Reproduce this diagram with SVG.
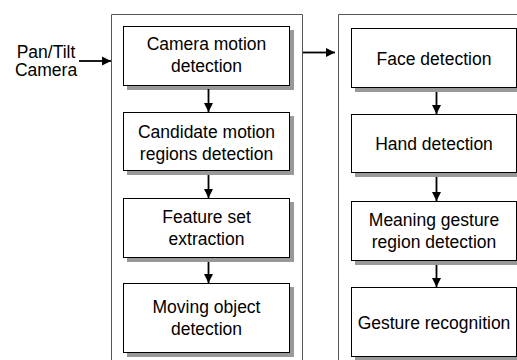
<svg xmlns="http://www.w3.org/2000/svg" width="517" height="360" viewBox="0 0 517 360">
<style>
.frame{fill:none;stroke:#555;stroke-width:1}
.box{fill:#fff;stroke:#000;stroke-width:1}
.shadow{fill:#999}
.t{font-family:"Liberation Sans",Arial,Helvetica,sans-serif;font-size:17.5px;fill:#000;text-anchor:middle}
.edge{stroke:#000;stroke-width:1.8;fill:none;marker-end:url(#ah)}
</style>
<defs>
<marker id="ah" markerUnits="userSpaceOnUse" markerWidth="12" markerHeight="12" refX="9" refY="6" orient="auto">
<path d="M0,1.5 L9,6 L0,10.5 Z" fill="#000"/>
</marker>
</defs>
<rect width="517" height="360" fill="#fff"/>
<g id="frames">
<path class="frame" d="M111.5,362 V14.5 H302.5 V362"/>
<path class="frame" d="M338.5,362 V14.5 H520"/>
</g>
<g id="pan-tilt-camera">
<text class="t" x="46" y="58">Pan/Tilt</text>
<text class="t" x="46" y="76">Camera</text>
</g>
<g id="camera-motion-detection">
<rect class="shadow" x="127" y="30" width="167" height="60"/>
<rect class="box" x="123.5" y="26.5" width="166" height="59"/>
<text class="t" x="206.5" y="50">Camera motion</text>
<text class="t" x="206.5" y="72">detection</text>
</g>
<g id="candidate-motion-regions-detection">
<rect class="shadow" x="127" y="116" width="167" height="59"/>
<rect class="box" x="123.5" y="112.5" width="166" height="58"/>
<text class="t" x="206.5" y="138">Candidate motion</text>
<text class="t" x="206.5" y="160">regions detection</text>
</g>
<g id="feature-set-extraction">
<rect class="shadow" x="127" y="202" width="167" height="60"/>
<rect class="box" x="123.5" y="198.5" width="166" height="59"/>
<text class="t" x="206.5" y="223">Feature set</text>
<text class="t" x="206.5" y="245">extraction</text>
</g>
<g id="moving-object-detection">
<rect class="shadow" x="127" y="287" width="167" height="70"/>
<rect class="box" x="123.5" y="283.5" width="166" height="69"/>
<text class="t" x="206.5" y="313">Moving object</text>
<text class="t" x="206.5" y="335">detection</text>
</g>
<g id="face-detection">
<rect class="shadow" x="355" y="32" width="170" height="60"/>
<rect class="box" x="351.5" y="28.5" width="165" height="59"/>
<text class="t" x="434" y="65">Face detection</text>
</g>
<g id="hand-detection">
<rect class="shadow" x="355" y="118" width="170" height="59"/>
<rect class="box" x="351.5" y="114.5" width="165" height="58"/>
<text class="t" x="434" y="150">Hand detection</text>
</g>
<g id="meaning-gesture-region-detection">
<rect class="shadow" x="355" y="205" width="170" height="60"/>
<rect class="box" x="351.5" y="201.5" width="165" height="59"/>
<text class="t" x="434" y="226">Meaning gesture</text>
<text class="t" x="434" y="248">region detection</text>
</g>
<g id="gesture-recognition">
<rect class="shadow" x="355" y="291" width="170" height="70"/>
<rect class="box" x="351.5" y="287.5" width="165" height="69"/>
<text class="t" x="434" y="329">Gesture recognition</text>
</g>
<g id="connectors">
<line class="edge" x1="79" y1="61" x2="111" y2="61"/>
<line class="edge" x1="303" y1="52.5" x2="335" y2="52.5"/>
<line class="edge" x1="208.5" y1="89" x2="208.5" y2="112"/>
<line class="edge" x1="208.5" y1="175" x2="208.5" y2="198"/>
<line class="edge" x1="208.5" y1="262" x2="208.5" y2="283"/>
<line class="edge" x1="436.5" y1="92" x2="436.5" y2="114"/>
<line class="edge" x1="436.5" y1="177" x2="436.5" y2="201"/>
<line class="edge" x1="436.5" y1="265" x2="436.5" y2="287"/>
</g>
</svg>
